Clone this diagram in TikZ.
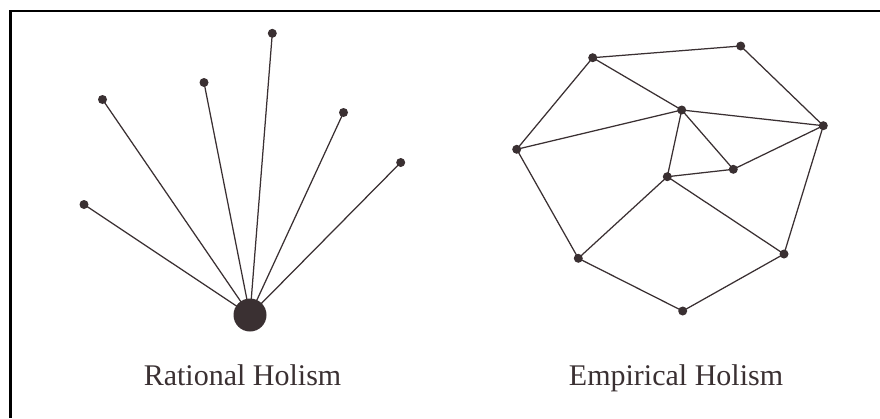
\documentclass[tikz,border=0pt]{standalone}
\usepackage{fontspec}
\setmainfont{Liberation Serif}
\definecolor{ink}{HTML}{3A3032}
\begin{document}
\begin{tikzpicture}[x=1pt,y=-1pt,
  dot/.style={circle,fill=ink,inner sep=0pt,minimum size=9pt},
  hub/.style={circle,fill=ink,inner sep=0pt,minimum size=33pt},
  edge/.style={draw=ink,line width=1.25pt},
  lbl/.style={text=ink,font=\fontsize{30}{33}\selectfont,inner sep=0pt,anchor=base}]
\useasboundingbox (0,0) rectangle (880,418);
\draw[line width=2.5pt,black] (10.5,418) -- (10.5,11) -- (880,11);
% Rational holism
\node[hub] (h) at (250,315) {};
\node[dot] (r1) at (84,204.5) {};
\node[dot] (r2) at (102.5,99.5) {};
\node[dot] (r3) at (204,82.5) {};
\node[dot] (r4) at (272.3,33.3) {};
\node[dot] (r5) at (343.5,112.5) {};
\node[dot] (r6) at (400.7,162.5) {};
\foreach \n in {r1,r2,r3,r4,r5,r6} \draw[edge] (h.center) -- (\n.center);
% Empirical holism
\node[dot] (A) at (592.7,57.7) {};
\node[dot] (B) at (740.7,46) {};
\node[dot] (C) at (681.7,110) {};
\node[dot] (D) at (823.3,125.7) {};
\node[dot] (E) at (516.7,149.3) {};
\node[dot] (F) at (733.3,169.3) {};
\node[dot] (G) at (667.3,176.7) {};
\node[dot] (H) at (578.3,258.3) {};
\node[dot] (I) at (784,254) {};
\node[dot] (J) at (682.7,311) {};
\foreach \a/\b in {A/B,B/D,A/C,A/E,E/C,C/D,C/G,C/F,G/F,F/D,D/I,E/H,G/H,G/I,H/J,I/J}
  \draw[edge] (\a.center) -- (\b.center);
\node[lbl] (t1) at (242.5,385) {Rational Holism};
\node[lbl] (t2) at (676,385) {Empirical Holism};
\end{tikzpicture}
\end{document}
